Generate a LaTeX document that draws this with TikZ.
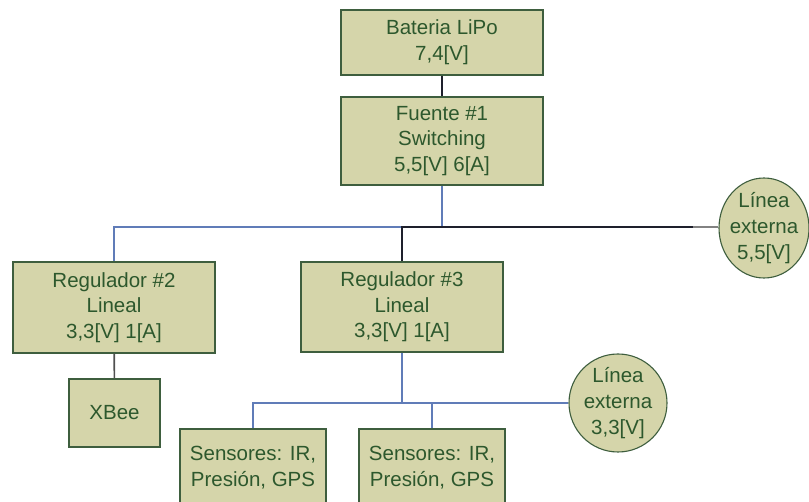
\documentclass[tikz,border=0pt]{standalone}
\usepackage{fontspec}
\setmainfont{Liberation Sans}
\usetikzlibrary{shapes.geometric}
\definecolor{boxfill}{RGB}{213,213,170}
\definecolor{boxedge}{RGB}{62,94,62}
\definecolor{boxtext}{RGB}{45,88,45}
\definecolor{wireblue}{RGB}{96,124,184}
\definecolor{wiredark}{RGB}{30,32,44}
\definecolor{wiredim}{RGB}{80,80,80}
\definecolor{wiregray}{RGB}{130,130,130}
\begin{document}
\begin{tikzpicture}[x=1pt,y=-1pt,
  labelfont/.style={font=\fontsize{20.5}{25.7}\selectfont},
  unit/.style={rectangle, draw=boxedge, fill=boxfill, line width=1.1pt,
    text=boxtext, align=center, inner sep=0pt, labelfont},
  tap/.style={ellipse, draw=boxedge, fill=boxfill, line width=1.1pt, inner sep=0pt},
  taptext/.style={text=boxtext, align=center, inner sep=0pt, labelfont},
  bluewire/.style={draw=wireblue, line width=1.4pt},
  darkwire/.style={draw=wiredark, line width=1.6pt},
  dimwire/.style={draw=wiredim, line width=1.6pt},
  graywire/.style={draw=wiregray, line width=1.6pt},
]
\useasboundingbox (0,0) rectangle (809,502);
\fill[white] (0,0) rectangle (809,502);

% power chain
\node[unit, minimum width=202pt, minimum height=65pt] (bat) at (442,42.5) {Bateria LiPo\\7,4[V]};
\node[unit, minimum width=202pt, minimum height=88pt] (fue) at (442,141) {Fuente \#1\\Switching\\5,5[V] 6[A]};
\node[unit, minimum width=202pt, minimum height=91pt] (reg2) at (114,307.5) {Regulador \#2\\Lineal\\3,3[V] 1[A]};
\node[unit, minimum width=202pt, minimum height=90pt] (reg3) at (402,307) {Regulador \#3\\Lineal\\3,3[V] 1[A]};
\node[unit, minimum width=91pt, minimum height=68pt] (xbee) at (114.5,413) {XBee};
\node[unit, minimum width=146pt, minimum height=78pt] (sen1) at (253,468) {Sensores: IR,\\Presión, GPS};
\node[unit, minimum width=146pt, minimum height=78pt] (sen2) at (432,468) {Sensores: IR,\\Presión, GPS};

% external supply taps
\node[tap, minimum width=90pt, minimum height=100pt] (ext1) at (764,228) {};
\node[taptext] (ext1t) at (ext1.center) {Línea\\externa\\5,5[V]};
\node[tap, minimum width=98pt, minimum height=98pt] (ext2) at (618,403) {};
\node[taptext] (ext2t) at (ext2.center) {Línea\\externa\\3,3[V]};

% connectors
\coordinate (bus1) at (0,227);
\coordinate (fade1) at (693,227);
\coordinate (bus2) at (0,403);

\draw[darkwire] (bat) -- (fue);
\draw[bluewire] (fue.south) -- (fue.south |- bus1) -| (reg2.north);
\draw[bluewire] (fue.south |- bus1) -| (reg3.north);
\draw[darkwire] (reg3.north) |- (fade1);
\draw[graywire] (fade1) -- (fade1 -| ext1.west);
\draw[dimwire] (reg2) -- (xbee);

\draw[bluewire] (reg3.south) -- (reg3.south |- bus2);
\draw[bluewire] (sen1.north) |- (ext2.west);
\draw[bluewire] (sen2.north) -- (sen2.north |- bus2);
\end{tikzpicture}
\end{document}
